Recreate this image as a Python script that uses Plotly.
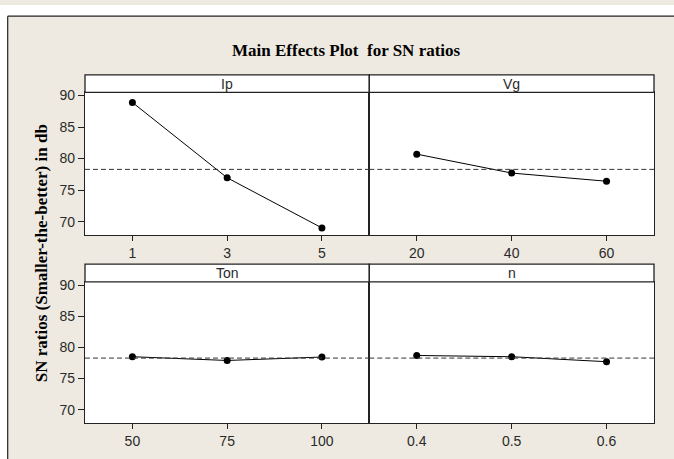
import plotly.graph_objects as go

# ---- data ----
factors = ["Ip", "Vg", "Ton", "n"]
ip_levels = ["1", "3", "5"]
ip_sn = [88.9, 76.95, 69.0]
vg_levels = ["20", "40", "60"]
vg_sn = [80.7, 77.7, 76.4]
ton_levels = ["50", "75", "100"]
ton_sn = [78.5, 77.9, 78.45]
n_levels = ["0.4", "0.5", "0.6"]
n_sn = [78.7, 78.5, 77.7]
y_ticks = [70, 75, 80, 85, 90]

levels = [ip_levels, vg_levels, ton_levels, n_levels]
values = [ip_sn, vg_sn, ton_sn, n_sn]
grand_mean = sum(ip_sn) / len(ip_sn)

W, H = 674, 459
BEIGE = "#EEEAE1"
DARK = "#222222"
TICKFONT = dict(family="Liberation Sans, Arial, sans-serif", size=14, color="#2a2a2a")
SERIF = "Liberation Serif, Times New Roman, serif"

def px(x):
    return x / W

def py(y):
    return 1 - y / H

xdoms = [[px(85), px(369.3)], [px(369.3), px(654)]]
ydoms = [[py(232.7), py(88.3)], [py(422.7), py(280)]]
strips = [(70.7, 88.3), (261.9, 280)]

fig = go.Figure()
layout = dict(
    width=W, height=H,
    margin=dict(l=0, r=0, t=0, b=0),
    paper_bgcolor=BEIGE,
    plot_bgcolor="white",
    showlegend=False,
    shapes=[],
    annotations=[],
)

for i, (lv, vals, name) in enumerate(zip(levels, values, factors)):
    row, col = divmod(i, 2)
    k = i + 1
    xa = "xaxis" if k == 1 else f"xaxis{k}"
    ya = "yaxis" if k == 1 else f"yaxis{k}"
    xr = "x" if k == 1 else f"x{k}"
    yr = "y" if k == 1 else f"y{k}"
    fig.add_trace(go.Scatter(
        x=list(range(len(lv))), y=vals, mode="lines+markers",
        line=dict(color="black", width=1),
        marker=dict(color="black", size=7),
        xaxis=xr, yaxis=yr, hoverinfo="skip",
    ))
    layout[xa] = dict(
        domain=xdoms[col], anchor=yr, range=[-0.5, len(lv) - 0.5],
        tickvals=list(range(len(lv))), ticktext=lv,
        ticks="outside", ticklen=5, tickcolor=DARK, tickwidth=1,
        showline=True, mirror=True, linecolor=DARK, linewidth=1.3,
        showgrid=False, zeroline=False, tickfont=TICKFONT, fixedrange=True,
    )
    yax = dict(
        domain=ydoms[row], anchor=xr, range=[67.85, 90.5],
        tickvals=y_ticks,
        showline=True, mirror=True, linecolor=DARK, linewidth=1.3,
        showgrid=False, zeroline=False, tickfont=TICKFONT, fixedrange=True,
    )
    if col == 0:
        yax.update(ticks="outside", ticklen=6, tickcolor=DARK, tickwidth=1)
    else:
        yax.update(showticklabels=False, ticks="")
    layout[ya] = yax
    # mean reference line
    layout["shapes"].append(dict(
        type="line", xref=f"{xr} domain", yref=yr, x0=0, x1=1,
        y0=grand_mean, y1=grand_mean,
        line=dict(color="#333", width=1, dash="5px,3px"), layer="above",
    ))
    # strip header
    s0, s1 = strips[row]
    layout["shapes"].append(dict(
        type="rect", xref="paper", yref="paper",
        x0=xdoms[col][0], x1=xdoms[col][1], y0=py(s1), y1=py(s0),
        fillcolor="white", line=dict(color=DARK, width=1.3), layer="above",
    ))
    layout["annotations"].append(dict(
        text=name, xref="paper", yref="paper",
        x=(xdoms[col][0] + xdoms[col][1]) / 2, y=(py(s0) + py(s1)) / 2,
        xanchor="center", yanchor="middle", showarrow=False,
        font=TICKFONT,
    ))

# white margin outside the outer frame and frame border
layout["shapes"] += [
    dict(type="rect", xref="paper", yref="paper", x0=0, x1=px(7.7), y0=0, y1=1,
         fillcolor="white", line=dict(width=0), layer="below"),
    dict(type="rect", xref="paper", yref="paper", x0=0, x1=1, y0=py(11.3), y1=1,
         fillcolor="white", line=dict(width=0), layer="below"),
    dict(type="line", xref="paper", yref="paper", x0=px(7.7), x1=px(7.7),
         y0=0, y1=py(11.3), line=dict(color="#222", width=1.2)),
    dict(type="line", xref="paper", yref="paper", x0=px(7.7), x1=1,
         y0=py(11.3), y1=py(11.3), line=dict(color="#222", width=1.2)),
]

layout["annotations"] += [
    dict(text="<b>Main Effects Plot \u00a0for SN ratios</b>", xref="paper", yref="paper",
         x=px(346), y=py(46), xanchor="center", yanchor="middle", showarrow=False,
         font=dict(family=SERIF, size=17, color="black")),
    dict(text="<b>SN ratios (Smaller-the-better) in db</b>", xref="paper", yref="paper",
         x=px(41), y=py(251), xanchor="center", yanchor="middle", showarrow=False,
         textangle=-90, font=dict(family=SERIF, size=17, color="black")),
]

fig.update_layout(**layout)
fig.write_html(
    "out.html",
    config={"displayModeBar": False},
    post_script="document.body.style.margin='0';document.body.style.overflow='hidden';",
)
